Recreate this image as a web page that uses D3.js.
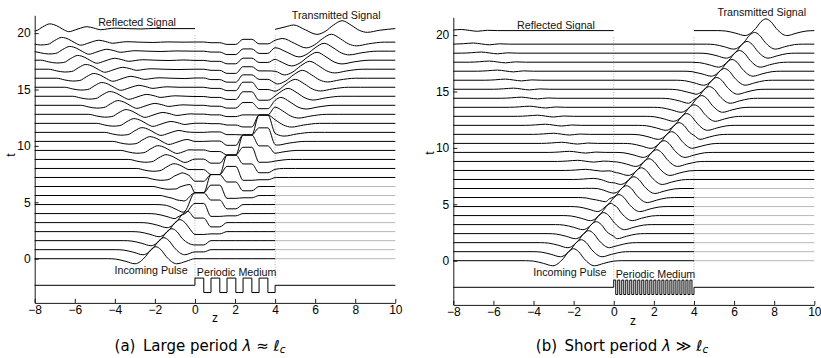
<!DOCTYPE html>
<html><head><meta charset="utf-8">
<script src="https://cdn.jsdelivr.net/npm/d3@7/dist/d3.min.js"></script>
<style>
body{margin:0;background:#fff}
svg{display:block}
text{font-family:"Liberation Sans",Arial,sans-serif}
</style>
</head><body>
<svg id="chart" width="821" height="358"></svg>
<script>
// ---------------- data ----------------
const traceT = [0,0.8,1.6,2.4,3.2,4.0,4.8,5.6,6.4,7.2,8.0,8.8,9.6,10.4,11.2,12.0,12.8,13.6,14.4,15.2,16.0,16.8,17.6,18.4,19.2,20.4];
const xTickVals = [-8,-6,-4,-2,0,2,4,6,8,10];
const yTickVals = [0,5,10,15,20];

// incoming pulse profile: offset from pulse centre (z) and height (t units)
const pulseDz = [-2.4,-2.0,-1.5,-1.04,-0.52,-0.25,0,0.25,0.52,1.04,1.5,2.0,2.4];
const pulseV  = [0,-0.04,-0.24,-0.45,0.18,0.8,1.06,0.8,0.18,-0.45,-0.24,-0.04,0];

// (a) large period
const centreA = [-1.95,-1.55,-1.15,-0.75,-0.35,0.05,0.45,0.85,1.25,1.65,2.05,2.45];
const reflZ = [-9.1,-8.7,-8.3,-7.95,-7.6,-7.25,-6.9,-6.6,-6.3,-5.95,-5.7,-5.4,-5.05,-4.7,-4.35,-4.0,-3.4,-2.7,-1.95,-1.2];
const reflV = [0,-0.15,-0.25,-0.2,0.15,0.42,0.25,-0.05,-0.27,-0.1,0.05,0.17,0.05,-0.1,-0.02,0.04,0,-0.03,0.02,0];
const reflShift = [10.2,9.8,9.4,9.0,8.6,8.2,7.8,7.4,7.0,6.6,6.2,5.8,5.4,5.0,4.6,4.2,3.8,3.4,3.0,2.6,2.2,1.8,1.4,1.0,0.6,0];
const transZ = [4.0,4.5,4.93,5.5,6.09,6.5,6.9,7.35,7.8,8.2,8.6,9.2,10.0,10.6];
const transV = [-0.07,0.15,0.32,-0.1,-0.51,-0.25,0.3,0.7,0.3,-0.15,-0.33,-0.15,0,0];
const transShift = [null,null,null,null,null,null,null,null,null,-5.94,-5.58,-5.22,-4.86,-4.5,-4.14,-3.78,-3.42,-3.06,-2.7,-2.34,-1.98,-1.62,-1.26,-0.9,-0.54,0];
const layerStartA = [0,0.8,1.6,2.4,3.2];
const layerEndA   = [0.44,1.24,2.04,2.84,3.64];
const mediumA = [
  [0,0,0,0,0],
  [-0.2,0,0,0,0],
  [-0.38,0,0,0,0],
  [-0.25,-0.2,0,0,0],
  [0.4,-0.38,0,0,0],
  [0.9,-0.25,-0.2,0,0],
  [1.05,0.4,-0.38,0,0],
  [0.25,0.92,-0.25,-0.2,0],
  [-0.55,1.06,0.4,-0.38,0],
  [-0.33,0.26,0.98,-0.25,-0.2],
  [-0.1,-0.54,1.19,0.4,-0.38],
  [0.03,-0.33,0.39,1.08,-0.25],
  [0.04,-0.1,-0.41,1.37,0.4],
  [0,0.03,-0.35,0.57,1.2],
  [0,0.04,-0.2,-0.23,1.54],
  [0.01,-0.03,-0.15,-0.32,0.74],
  [0.02,-0.05,-0.2,-0.05,-0.06],
  [0,-0.08,-0.25,0.25,-0.3],
  [-0.02,-0.1,-0.28,0.4,-0.35],
  [0,-0.1,-0.3,0.45,-0.2],
  [0.02,-0.12,-0.35,0.3,-0.1],
  [0,-0.1,-0.37,0.22,-0.15],
  [-0.02,-0.1,-0.32,0.18,-0.2],
  [0,-0.08,-0.3,0.2,-0.2],
  [0.01,-0.05,-0.2,0.25,-0.15]
];
const profileZA  = [-8,0,0.44,0.8,1.24,1.6,2.04,2.4,2.84,3.2,3.64,4,10];
const profileLvA = [0,1,-1,1,-1,1,-1,1,-1,1,-1,0,0];

// (b) short period
const centreB = [-2.0,-1.62,-1.25,-0.87,-0.5,-0.12,0.26,0.63,1.01,1.38,1.76,2.14,2.51,2.89,3.26,3.64,4.02,4.39,4.77,5.14,5.52,5.9,6.27,6.65,7.02,7.59];
const ampB = [1,1,1,1,1,1,1,0.99,0.98,0.98,0.98,0.98,0.98,0.98,0.98,0.98,0.98,0.98,0.98,0.98,0.98,0.98,0.98,0.98,0.98,0.98];
const reflBZ = [-8.6,-8.1,-7.6,-7.2,-6.8,-6.3,-5.8];
const reflBV = [0,0.04,0.1,0.02,-0.06,0.03,0];
const profileZB = [-8,0,0.1,0.2,0.3,0.4,0.5,0.6,0.7,0.8,0.9,1,1.1,1.2,1.3,1.4,1.5,1.6,1.7,1.8,1.9,2,2.1,2.2,2.3,2.4,2.5,2.6,2.7,2.8,2.9,3,3.1,3.2,3.3,3.4,3.5,3.6,3.7,3.8,3.9,4,10];
const profileLvB = [0,1,-1,1,-1,1,-1,1,-1,1,-1,1,-1,1,-1,1,-1,1,-1,1,-1,1,-1,1,-1,1,-1,1,-1,1,-1,1,-1,1,-1,1,-1,1,-1,1,-1,0,0];
const profileLevelT = {"0":-2.36,"1":-1.72,"-1":-3.0};

const labelsA = {refl:[-2.89,20.67], trans:[7.05,21.22], inc:[-2.19,-1.38], med:[2.08,-1.52]};
const labelsB = {refl:[-2.88,20.52], trans:[7.38,21.69], inc:[-2.19,-1.38], med:[2.08,-1.52]};
const captionA = ["(a)","Large period","\u2248"];
const captionB = ["(b)","Short period","\u226B"];

// ---------------- drawing ----------------
const svg = d3.select('#chart');

function pl(zs, vs, shift, amp){
  return d3.scaleLinear().domain(zs.map(z=>z+shift)).range(vs.map(v=>v*amp)).clamp(true);
}
function knots(list, req){
  const r = req.slice().sort((a,b)=>a-b);
  const cand = list.filter(z=>r.every(q=>Math.abs(z-q)>0.04)).concat(r).sort((a,b)=>a-b);
  const out=[];
  cand.forEach(z=>{ if(!out.length || z-out[out.length-1]>0.025 || r.includes(z)) out.push(z); });
  return out;
}

function makePanel(o){
  const x = d3.scaleLinear().domain([-8,10]).range([o.x0,o.x1]);
  const y = d3.scaleLinear().domain([-3.92,21.58]).range([o.yBot,o.yTop]);
  const g = svg.append('g');
  const line = d3.line().x(d=>x(d[0])).y(d=>y(d[1])).curve(d3.curveMonotoneX);
  [0,4].forEach(z=>{
    g.append('line').attr('x1',x(z)).attr('x2',x(z)).attr('y1',y(-1.72)).attr('y2',y(19.9))
      .attr('stroke','#b0b0b0').attr('stroke-width',1).attr('stroke-dasharray','1,1.6');
  });
  const grp = {x,y,g,line};
  grp.black = pts => g.append('path').attr('d',line(pts)).attr('fill','none').attr('stroke','#000').attr('stroke-width',1);
  grp.gray  = pts => g.append('path').attr('d',line(pts)).attr('fill','none').attr('stroke','#b8b8b8').attr('stroke-width',1);
  return grp;
}

function drawAxes(p, o, xLab, tLab){
  const ax = p.g.append('g').attr('transform',`translate(0,${o.yBot})`)
    .call(d3.axisBottom(p.x).tickValues(xTickVals).tickSize(-4).tickSizeOuter(0).tickPadding(3));
  const ay = p.g.append('g').attr('transform',`translate(${o.x0},0)`)
    .call(d3.axisLeft(p.y).tickValues(yTickVals).tickSize(-4).tickSizeOuter(0).tickPadding(4));
  [ax,ay].forEach(a=>{
    a.attr('font-family','"Liberation Sans",Arial,sans-serif').attr('font-size',12);
    a.selectAll('path,line').attr('stroke','#000').attr('stroke-width',0.9);
    a.selectAll('text').attr('fill','#000');
  });
  p.g.append('text').attr('x',xLab[0]).attr('y',xLab[1]).attr('text-anchor','middle').attr('font-size',12).text('z');
  p.g.append('text').attr('transform',`translate(${tLab[0]},${tLab[1]}) rotate(-90)`).attr('text-anchor','middle')
    .attr('dy','0.35em').attr('font-size',12).text('t');
}

function drawProfile(p, zs, lv){
  const pts = zs.map((z,i)=>[z, profileLevelT[String(lv[i])]]);
  const l = d3.line().x(d=>p.x(d[0])).y(d=>p.y(d[1])).curve(d3.curveStepAfter);
  p.g.append('path').attr('d',l(pts)).attr('fill','none').attr('stroke','#000').attr('stroke-width',1);
}

function drawLabels(p, L){
  const add=(pos,txt)=>p.g.append('text').attr('x',p.x(pos[0])).attr('y',p.y(pos[1]))
     .attr('text-anchor','middle').attr('font-size',10.7).attr('fill','#111').text(txt);
  add(L.refl,'Reflected Signal');
  add(L.trans,'Transmitted Signal');
  add(L.inc,'Incoming Pulse');
  add(L.med,'Periodic Medium');
}

function drawCaption(cx, cy, c){
  const t = svg.append('text').attr('x',cx).attr('y',cy).attr('text-anchor','middle')
    .style('font-family','"DejaVu Sans",sans-serif').style('font-size','15px').attr('fill','#000');
  t.append('tspan').text(c[0]+'\u2002'+c[1]+' ');
  t.append('tspan').style('font-style','italic').text('\u03BB');
  t.append('tspan').text(' '+c[2]+' ');
  t.append('tspan').style('font-style','italic').text('\u2113');
  t.append('tspan').style('font-style','italic').style('font-size','10.5px').attr('dy',2).text('c');
}

// ---- panel (a)
const oA = {x0:34.7,x1:395.3,yTop:15.3,yBot:302.9};
const pA = makePanel(oA);
traceT.forEach((t,k)=>{
  const top = k===traceT.length-1;
  const refl = pl(reflZ,reflV,reflShift[k],1);
  const hasInc = k<centreA.length;
  const inc = hasInc ? pl(pulseDz,pulseV,centreA[k],1) : (()=>0);
  const hasTr = transShift[k]!==null;
  const trans = hasTr ? pl(transZ,transV,transShift[k],1) : (()=>0);
  let lz = reflZ.map(z=>z+reflShift[k]);
  if(hasInc) lz = lz.concat(pulseDz.map(d=>d+centreA[k]));
  lz = knots(lz.filter(z=>z>-8 && z<(top?0:-0.2)), [-8]);
  const left = lz.map(z=>[z, t+inc(z)+refl(z)]);
  let rz = hasTr ? transZ.map(z=>z+transShift[k]) : [];
  rz = knots(rz.filter(z=>z>4 && z<10), [4,10]);
  const right = rz.map(z=>[z, t+trans(z)]);
  if(top){
    left.push([0, t+refl(0)]);
    pA.black(left); pA.black(right);
  } else {
    const med=[];
    mediumA[k].forEach((v,j)=>{ med.push([layerStartA[j],t+v]); med.push([layerEndA[j],t+v]); });
    if(hasTr){ pA.black(left.concat(med,right)); }
    else { pA.gray([[4,t],[10,t]]); pA.black(left.concat(med,[[4,t]])); }
  }
});
drawProfile(pA, profileZA, profileLvA);
drawAxes(pA, oA, [215,322], [10.5,155]);
drawLabels(pA, labelsA);
drawCaption(200,351,captionA);

// ---- panel (b)
const oB = {x0:453.3,x1:814.3,yTop:17.3,yBot:304.9};
const pB = makePanel(oB);
traceT.forEach((t,k)=>{
  const top = k===traceT.length-1;
  const pu = pl(pulseDz,pulseV,centreB[k],ampB[k]);
  const r = pl(reflBZ,reflBV,reflShift[k],1);
  const f = z => t + pu(z) + (z<0 ? r(z) : 0);
  let zs = pulseDz.map(d=>d+centreB[k]).concat(reflBZ.map(z=>z+reflShift[k]).filter(z=>z<0));
  zs = knots(zs.filter(z=>z>-8 && z<10), [-8,0,4,10]);
  const pts = zs.map(z=>[z,f(z)]);
  if(top){
    pB.black(pts.filter(d=>d[0]<=0));
    pB.black(pts.filter(d=>d[0]>=4));
  } else if(k<=8){
    pB.gray(pts.filter(d=>d[0]>=4));
    pB.black(pts.filter(d=>d[0]<=4));
  } else {
    pB.black(pts);
  }
});
drawProfile(pB, profileZB, profileLvB);
drawAxes(pB, oB, [633,325], [430,153]);
drawLabels(pB, labelsB);
drawCaption(622,351,captionB);
</script>
</body></html>
